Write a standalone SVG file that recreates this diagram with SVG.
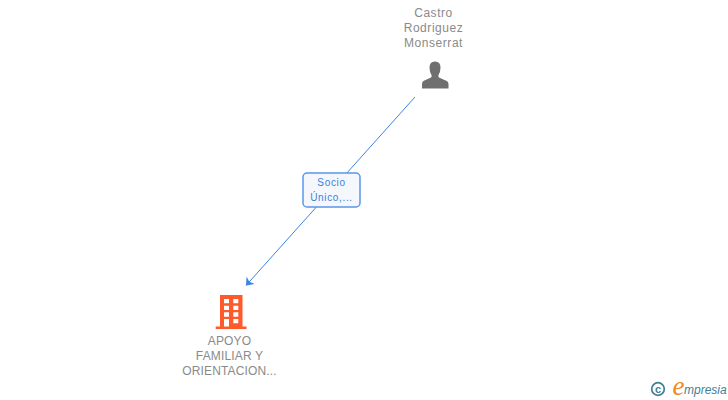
<svg xmlns="http://www.w3.org/2000/svg" width="728" height="400" viewBox="0 0 728 400">
<defs>
<style>
.lbl{font-family:"Liberation Sans",Arial,sans-serif;font-size:12px;fill:#8a8a8a;text-anchor:middle;letter-spacing:.55px}
.co{letter-spacing:.15px}
.edge{font-family:"Liberation Sans",Arial,sans-serif;font-size:10px;fill:#3b7fdc;text-anchor:middle;letter-spacing:.65px}
.line{stroke:#3b84e4;stroke-width:1;fill:none}
</style>
<marker id="arr" markerWidth="10" markerHeight="14" refX="7" refY="7" orient="auto" markerUnits="userSpaceOnUse"><path d="M0,1.500 L7,7 L0,12.500 L2,7 Z" fill="#3b84e4"/></marker>
</defs>
<rect width="728" height="400" fill="#ffffff"/>
<g id="connectors">
<path class="line" d="M415,97 L246,285.500" marker-end="url(#arr)"/>
</g>
<g id="node-person">
<text class="lbl" x="433.500" y="17">Castro</text>
<text class="lbl" x="433.500" y="32">Rodriguez</text>
<text class="lbl" x="433.500" y="47">Monserrat</text>
<path fill="#6f6f6f" d="M422,88.500 L422,84 Q422,81 425.500,80 L431,77.500 Q432,76.500 431.500,75 Q429.500,72 429.500,67.500 Q429.500,61.500 435,61.500 Q440.500,61.500 440.500,67.500 Q440.500,72 438.500,75 Q438,76.500 439,77.500 L444.500,80 Q448.500,81 448.500,84 L448.500,88.500 Z"/>
</g>
<g id="node-edge-label">
<rect x="303" y="173" width="57" height="34" rx="4" fill="#f4f7fc" stroke="#5a97ea" stroke-width="1.500"/>
<text class="edge" x="331.500" y="186">Socio</text>
<text class="edge" x="331.500" y="201">Único,...</text>
</g>
<g id="node-company">
<path fill="#ff5a2c" fill-rule="evenodd" d="M220,295 H242.500 V326.500 H246.500 V329 H215.700 V326.500 H220 Z M224,299 V303.300 H229 V299 Z M233.300,299 V303.300 H238.300 V299 Z M224,305.700 V310 H229 V305.700 Z M233.300,305.700 V310 H238.300 V305.700 Z M224,312.300 V316.700 H229 V312.300 Z M233.300,312.300 V316.700 H238.300 V312.300 Z M224,319 V326.500 H229 V319 Z M233.300,319 V323.300 H238.300 V319 Z"/>
<text class="lbl co" x="229.500" y="345">APOYO</text>
<text class="lbl co" x="229.500" y="360">FAMILIAR Y</text>
<text class="lbl co" x="229.500" y="375">ORIENTACION...</text>
</g>
<g id="logo">
<circle cx="658" cy="389" r="6.300" fill="none" stroke="#3f7f93" stroke-width="1.700"/>
<text x="658" y="393" font-family="Liberation Sans,Arial,sans-serif" font-size="11" font-weight="bold" fill="#3f7f93" text-anchor="middle">c</text>
<text x="678.500" y="395" font-family="Liberation Serif,serif" font-size="27" font-style="italic" fill="#f08a1c" text-anchor="middle">e</text>
<text x="684" y="394" font-family="Liberation Sans,Arial,sans-serif" font-size="12" font-style="italic" fill="#3f7f93">mpresia</text>
</g>
</svg>
